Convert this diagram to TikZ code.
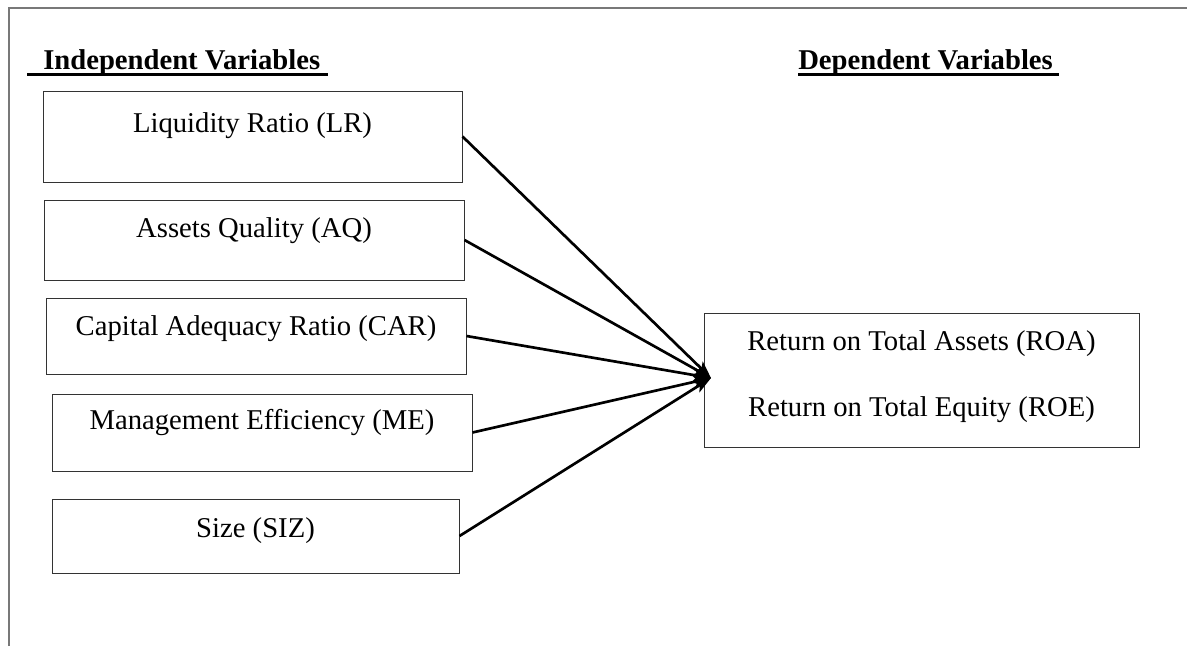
\documentclass[tikz,border=0pt]{standalone}
\usepackage{fontspec}
\setmainfont{Liberation Serif}
\usetikzlibrary{arrows.meta,fit}
\begin{document}
\begin{tikzpicture}[x=0.75pt,y=-0.75pt,
 box/.style={draw=black!80, line width=0.75pt, inner sep=0pt},
 txt/.style={anchor=base, inner sep=0pt, font=\fontsize{21.5}{26}\selectfont},
 head/.style={anchor=base west, inner sep=0pt, font=\fontsize{21.5}{26}\selectfont\bfseries},
 uline/.style={line width=1.8pt},
 link/.style={line width=2pt, -{Stealth[length=13pt,width=9pt,inset=3pt]}},
 frame/.style={draw={rgb,255:red,120;green,120;blue,120}, line width=1.5pt}]
\useasboundingbox (0,0) rectangle (1187,646);
% outer frame
\draw[frame] (9,646) -- (9,8) -- (1187,8);
% headings
\node[head] (ind) at (43,69) {Independent Variables};
\draw[uline] (27,74.5) -- (328,74.5);
\node[head] (dep) at (798,69) {Dependent Variables};
\draw[uline] (798,74.5) -- (1059,74.5);
% independent boxes
\node[box, fit={(43,91) (462,182)}] (lr) {};
\node[txt] (lrt) at (252.5,132) {Liquidity Ratio (LR)};
\node[box, fit={(44,200) (464,280)}] (aq) {};
\node[txt] (aqt) at (254,237) {Assets Quality (AQ)};
\node[box, fit={(46,298) (466,374)}] (car) {};
\node[txt] (cart) at (256,335) {Capital Adequacy Ratio (CAR)};
\node[box, fit={(52,394) (472,471)}] (me) {};
\node[txt] (met) at (262,429) {Management Efficiency (ME)};
\node[box, fit={(52,499) (459,573)}] (siz) {};
\node[txt] (sizt) at (255.5,537) {Size (SIZ)};
% dependent box
\node[box, fit={(704,313) (1139,447)}] (ret) {};
\node[txt] (roa) at (921.5,350) {Return on Total Assets (ROA)};
\node[txt] (roe) at (921.5,416) {Return on Total Equity (ROE)};
% connectors
\coordinate (tip) at (711,378);
\draw[link] (lr.east) -- (tip);
\draw[link] (aq.east) -- (tip);
\draw[link] (car.east) -- (tip);
\draw[link] (me.east) -- (tip);
\draw[link] (siz.east) -- (tip);
\end{tikzpicture}
\end{document}
